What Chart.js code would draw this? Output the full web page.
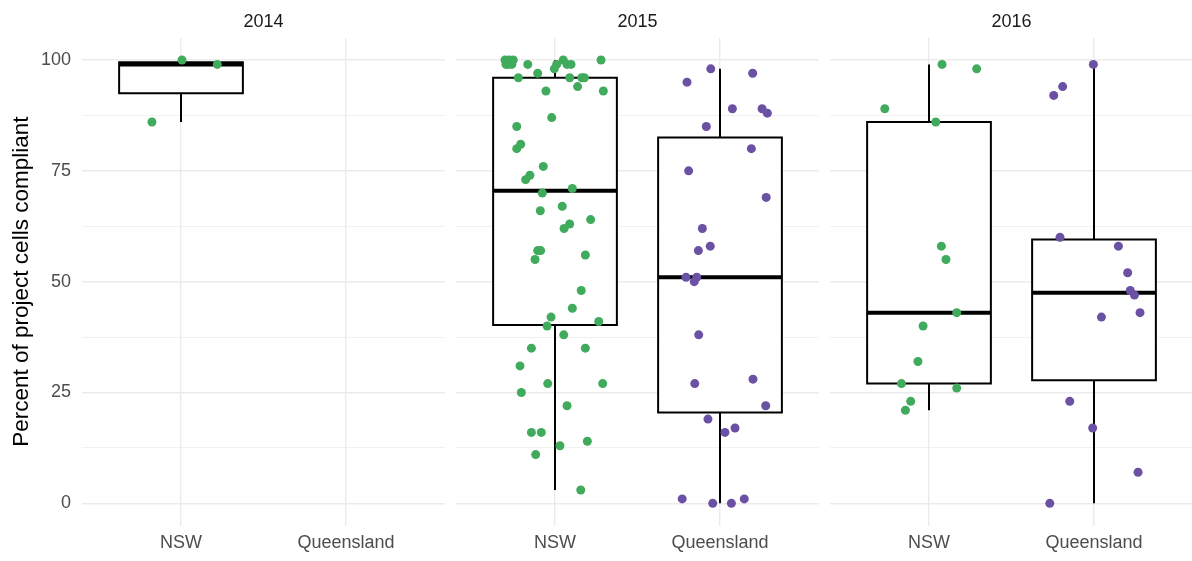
<!DOCTYPE html>
<html>
<head>
<meta charset="utf-8">
<script src="https://cdn.jsdelivr.net/npm/chart.js@4/dist/chart.umd.min.js"></script>
<style>
  html, body { margin: 0; padding: 0; background: #fff; overflow: hidden; }
  #wrap { position: relative; width: 1192px; height: 561px; }
  .panel { position: absolute; top: 0; }
</style>
</head>
<body>
<div id="wrap">
  <canvas class="panel" id="c2014" width="445" height="561" style="left:0px"></canvas>
  <canvas class="panel" id="c2015" width="363" height="561" style="left:456px"></canvas>
  <canvas class="panel" id="c2016" width="363" height="561" style="left:830px"></canvas>
</div>
<script>
const years = ['2014', '2015', '2016'];
const regions = ['NSW', 'Queensland'];
const yTicks = [0, 25, 50, 75, 100];
const yMinor = [12.5, 37.5, 62.5, 87.5];

//percent compliant per project, plus the horizontal jitter (in category units) of each dot
const nsw2014 = [86, 100, 99];
const nsw2014Jitter = [-0.176, 0.006, 0.22];
const qld2014 = [];
const qld2014Jitter = [];

const nsw2015 = [
  100, 100, 99, 99, 100, 99,
  99, 97, 96, 98, 99, 100, 99, 99, 100, 96, 96, 96, 94, 93, 93,
  87, 85, 81, 80, 76, 74, 73, 71, 70, 67, 66, 64, 63, 62,
  57, 57, 56, 55, 48, 44, 42, 41, 40, 38, 35, 35,
  31, 27, 27, 25, 22, 16, 16, 14, 13, 11, 3
];
const nsw2015Jitter = [
  -0.303, -0.253, -0.283, -0.262, -0.279, -0.297,
  -0.165, -0.105, -0.222, -0.004, 0.010, 0.050, 0.073, 0.097, 0.279, 0.089, 0.162, 0.178, 0.137, -0.055, 0.293,
  -0.020, -0.232, -0.208, -0.232, -0.071, -0.152, -0.178, 0.105, -0.077, 0.044, -0.089, 0.216, 0.089, 0.055,
  -0.087, -0.105, 0.184, -0.121, 0.159, 0.105, -0.024, 0.265, -0.048, 0.053, -0.143, 0.184,
  -0.212, -0.044, 0.289, -0.204, 0.073, -0.143, -0.083, 0.196, 0.030, -0.117, 0.156
];
const qld2015 = [
  98, 95, 97, 89, 89, 88, 85, 80, 75, 69, 62, 58, 57,
  51, 51, 50, 38, 27, 28, 22, 19, 17, 16, 1, 0, 0, 1
];
const qld2015Jitter = [
  -0.056, -0.200, 0.198, 0.075, 0.255, 0.287, -0.083, 0.190, -0.190, 0.280, -0.107, -0.059, -0.131,
  -0.206, -0.141, -0.156, -0.129, -0.153, 0.200, 0.277, -0.073, 0.091, 0.030, -0.229, -0.044, 0.069, 0.147
];

const nsw2016 = [99, 98, 89, 86, 58, 55, 43, 40, 32, 27, 26, 23, 21];
const nsw2016Jitter = [0.079, 0.289, -0.268, 0.041, 0.075, 0.103, 0.168, -0.036, -0.067, -0.167, 0.168, -0.111, -0.143];
const qld2016 = [99, 94, 92, 60, 58, 52, 48, 47, 43, 42, 23, 17, 7, 0];
const qld2016Jitter = [-0.004, -0.190, -0.244, -0.206, 0.148, 0.204, 0.220, 0.245, 0.279, 0.045, -0.147, -0.008, 0.267, -0.268];

const colors = ['#41ab5d', '#6a51a3'];
const fontFamily = "'Liberation Sans', Arial, sans-serif";
const boxWidth = 0.75;

//quantile, same as R type 7
const quantile = (sorted, p) => {
  const h = (sorted.length - 1) * p;
  const lo = Math.floor(h);
  const next = lo + 1 < sorted.length ? sorted[lo + 1] : sorted[lo];
  return sorted[lo] + (h - lo) * (next - sorted[lo]);
};

//hinges, median and whisker ends (1.5 * IQR rule)
const boxStats = (values) => {
  const sorted = [...values].sort((a, b) => a - b);
  const q1 = quantile(sorted, 0.25);
  const median = quantile(sorted, 0.5);
  const q3 = quantile(sorted, 0.75);
  const iqr = q3 - q1;
  const lo = Math.min(...sorted.filter(v => v >= q1 - 1.5 * iqr));
  const hi = Math.max(...sorted.filter(v => v <= q3 + 1.5 * iqr));
  return { q1, median, q3, lo, hi };
};

//build the datasets of one facet: dots on top, then median, box and whiskers
const panelDatasets = (groups) => {
  const datasets = [];
  groups.forEach((g, i) => {
    if (!g.values.length) return;
    const s = boxStats(g.values);
    const half = boxWidth / 2;
    datasets.push({
      label: regions[i],
      data: g.values.map((v, k) => ({ x: i + g.jitter[k], y: v })),
      showLine: false,
      pointRadius: 4.5,
      pointBackgroundColor: colors[i],
      pointBorderWidth: 0,
      order: 0,
    });
    datasets.push({
      data: [{ x: i - half, y: s.median }, { x: i + half, y: s.median }],
      borderColor: '#000',
      borderWidth: 4,
      pointRadius: 0,
      order: 1,
    });
    datasets.push({
      data: [
        { x: i - half, y: s.q1 }, { x: i + half, y: s.q1 },
        { x: i + half, y: s.q3 }, { x: i - half, y: s.q3 },
        { x: i - half, y: s.q1 },
      ],
      borderColor: '#000',
      borderWidth: 2,
      borderCapStyle: 'square',
      backgroundColor: '#fff',
      fill: 'shape',
      pointRadius: 0,
      order: 2,
    });
    datasets.push({
      data: [
        { x: i, y: s.lo }, { x: i, y: s.q1 }, { x: i, y: null },
        { x: i, y: s.q3 }, { x: i, y: s.hi },
      ],
      borderColor: '#000',
      borderWidth: 2,
      spanGaps: false,
      pointRadius: 0,
      order: 3,
    });
  });
  return datasets;
};

const gridValues = [...yTicks, ...yMinor].sort((a, b) => a - b);

const makeChart = (id, year, groups, first) => {
  return new Chart(document.getElementById(id), {
    type: 'line',
    data: { datasets: panelDatasets(groups) },
    options: {
      responsive: false,
      animation: false,
      events: [],
      //no extra room for point overflow, panels meet the plot edges
      layout: { padding: 0, autoPadding: false },
      plugins: {
        legend: { display: false },
        tooltip: { enabled: false },
        //facet strip label
        title: {
          display: true,
          text: year,
          fullSize: false,
          color: '#1a1a1a',
          font: { family: fontFamily, size: 18, weight: 'normal', lineHeight: 1.2 },
          padding: { top: 11, bottom: 5.2 },
        },
      },
      scales: {
        x: {
          type: 'linear',
          min: -0.6,
          max: 1.6,
          afterBuildTicks: (scale) => { scale.ticks = regions.map((r, i) => ({ value: i })); },
          afterFit: (scale) => { scale.height = 35.5; },
          ticks: {
            callback: (value) => regions[value],
            color: '#4d4d4d',
            font: { family: fontFamily, size: 18 },
            padding: 7,
            autoSkip: false,
            maxRotation: 0,
          },
          grid: { color: '#ebebeb', lineWidth: 1.4, drawTicks: false },
          border: { display: false },
        },
        y: {
          type: 'linear',
          min: -5,
          max: 105,
          afterBuildTicks: (scale) => { scale.ticks = gridValues.map(v => ({ value: v })); },
          afterFit: (scale) => { scale.width = first ? 82 : 0; },
          ticks: {
            display: first,
            callback: (value) => (yTicks.includes(value) ? String(value) : ''),
            color: '#4d4d4d',
            font: { family: fontFamily, size: 18 },
            padding: 11,
            autoSkip: false,
          },
          grid: {
            color: '#ebebeb',
            lineWidth: (ctx) => (ctx.tick && yTicks.includes(ctx.tick.value) ? 1.4 : 0.7),
            drawTicks: false,
          },
          border: { display: false },
          title: {
            display: first,
            text: 'Percent of project cells compliant',
            color: '#000',
            font: { family: fontFamily, size: 22.5, lineHeight: 1.2 },
            padding: { top: 8.5, bottom: 0 },
          },
        },
      },
    },
  });
};

makeChart('c2014', years[0], [
  { values: nsw2014, jitter: nsw2014Jitter },
  { values: qld2014, jitter: qld2014Jitter },
], true);
makeChart('c2015', years[1], [
  { values: nsw2015, jitter: nsw2015Jitter },
  { values: qld2015, jitter: qld2015Jitter },
], false);
makeChart('c2016', years[2], [
  { values: nsw2016, jitter: nsw2016Jitter },
  { values: qld2016, jitter: qld2016Jitter },
], false);
</script>
</body>
</html>
